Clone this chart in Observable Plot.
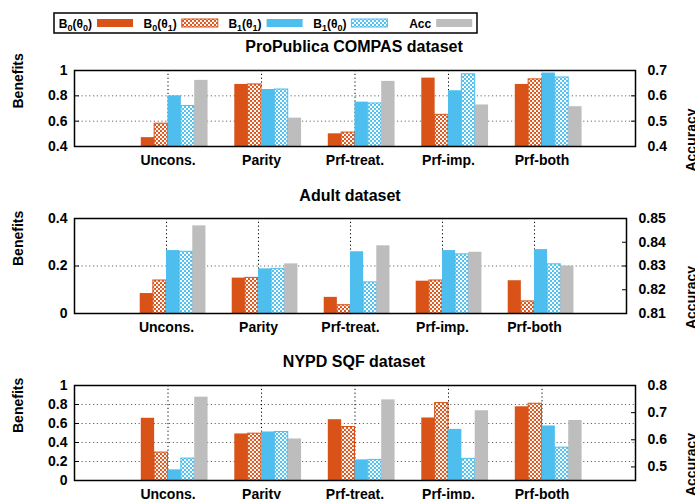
<!DOCTYPE html>
<html><head><meta charset="utf-8">
<script src="https://cdn.jsdelivr.net/npm/d3@7"></script>
<script src="https://cdn.jsdelivr.net/npm/@observablehq/plot@0.6"></script>
<style>
body{margin:0;background:#fff;overflow:hidden}
#wrap{position:relative;width:695px;height:499px;overflow:hidden;background:#fff}
#wrap svg{position:absolute;left:0}
</style></head><body><div id="wrap"></div>
<script>
// ---------- data ----------
const groups = ["Uncons.", "Parity", "Prf-treat.", "Prf-imp.", "Prf-both"];
const seriesKeys = ["B0t0", "B0t1", "B1t1", "B1t0", "Acc"];

// ProPublica COMPAS (benefits on left axis, accuracy on right axis)
const compasB0t0 = [0.47, 0.89, 0.50, 0.94, 0.89];
const compasB0t1 = [0.58, 0.89, 0.51, 0.65, 0.93];
const compasB1t1 = [0.80, 0.85, 0.75, 0.84, 0.98];
const compasB1t0 = [0.72, 0.85, 0.74, 0.97, 0.945];
const compasAcc  = [0.661, 0.512, 0.657, 0.564, 0.557];
const compasYTicks = [0.4, 0.6, 0.8, 1];
const compasY2Ticks = [0.4, 0.5, 0.6, 0.7];

// Adult
const adultB0t0 = [0.084, 0.149, 0.068, 0.136, 0.138];
const adultB0t1 = [0.139, 0.150, 0.035, 0.139, 0.051];
const adultB1t1 = [0.265, 0.188, 0.260, 0.265, 0.269];
const adultB1t0 = [0.260, 0.188, 0.131, 0.249, 0.207];
const adultAcc  = [0.8469, 0.8309, 0.8385, 0.8358, 0.8300];
const adultYTicks = [0, 0.2, 0.4];
const adultY2Ticks = [0.81, 0.82, 0.83, 0.84, 0.85];

// NYPD SQF
const nypdB0t0 = [0.655, 0.490, 0.640, 0.658, 0.776];
const nypdB0t1 = [0.294, 0.493, 0.563, 0.815, 0.808];
const nypdB1t1 = [0.112, 0.511, 0.217, 0.538, 0.574];
const nypdB1t0 = [0.231, 0.511, 0.217, 0.228, 0.346];
const nypdAcc  = [0.757, 0.603, 0.747, 0.707, 0.671];
const nypdYTicks = [0, 0.2, 0.4, 0.6, 0.8, 1];
const nypdY2Ticks = [0.5, 0.6, 0.7, 0.8];

// ---------- styling ----------
const ORANGE = "#D95319", BLUE = "#4DBEEE", GRAY = "#BDBDBD";
const FONT = "'Liberation Sans', Arial, Helvetica, sans-serif";
const seriesStyle = {
  B0t0: {fill: ORANGE},
  B0t1: {fill: "url(#hatchO)", stroke: ORANGE, strokeWidth: 1},
  B1t1: {fill: BLUE},
  B1t0: {fill: "url(#hatchB)", stroke: BLUE, strokeWidth: 1},
  Acc:  {fill: GRAY}
};

const wrap = document.getElementById("wrap");

// pattern defs (document-wide)
const defsSvg = d3.select(wrap).append("svg").attr("width", 0).attr("height", 0).style("top", "0px");
const defs = defsSvg.append("defs");
function hatch(id, color) {
  const p = defs.append("pattern").attr("id", id).attr("patternUnits", "userSpaceOnUse")
    .attr("width", 4).attr("height", 4);
  p.append("rect").attr("width", 4).attr("height", 4).attr("fill", color);
  p.append("circle").attr("cx", 1).attr("cy", 1).attr("r", 1.15).attr("fill", "#fff");
  p.append("circle").attr("cx", 3).attr("cy", 3).attr("r", 1.15).attr("fill", "#fff");
}
hatch("hatchO", ORANGE);
hatch("hatchB", BLUE);

const panels = [
  {title: "ProPublica COMPAS dataset", vals: [compasB0t0, compasB0t1, compasB1t1, compasB1t0], acc: compasAcc,
   yDomain: [0.4, 1], yTicks: compasYTicks, y2Domain: [0.4, 0.7], y2Ticks: compasY2Ticks,
   top: 60, plotH: 76, marginBottom: 30, marginRight: 60, titleY: 52, titleX: 354},
  {title: "Adult dataset", vals: [adultB0t0, adultB0t1, adultB1t1, adultB1t0], acc: adultAcc,
   yDomain: [0, 0.4], yTicks: adultYTicks, y2Domain: [0.81, 0.85], y2Ticks: adultY2Ticks,
   top: 208, plotH: 95, marginBottom: 30, marginRight: 69, titleY: 201, titleX: 350},
  {title: "NYPD SQF dataset", vals: [nypdB0t0, nypdB0t1, nypdB1t1, nypdB1t0], acc: nypdAcc,
   yDomain: [0, 1], yTicks: nypdYTicks, y2Domain: [0.45, 0.8], y2Ticks: nypdY2Ticks,
   top: 375, plotH: 95, marginBottom: 24, marginRight: 60, titleY: 367, titleX: 354}
];

const nGroups = groups.length, nSeries = seriesKeys.length, gap = 2;
const slot = 1 / (nSeries + gap);

panels.forEach(p => {
  const [y0, y1] = p.yDomain, [r0, r1] = p.y2Domain;
  const toLeft = r => y0 + (r - r0) * (y1 - y0) / (r1 - r0);
  const toRight = v => r0 + (v - y0) * (r1 - r0) / (y1 - y0);
  const fmt = v => String(+(+v).toFixed(3));
  const rows = [];
  groups.forEach((g, gi) => {
    seriesKeys.forEach((s, si) => {
      const v = s === "Acc" ? toLeft(p.acc[gi]) : p.vals[si][gi];
      rows.push({series: s, group: g, x1: gi + (si - 2) * slot, x2: gi + (si - 1) * slot, base: y0, v});
    });
  });
  const marginTop = 10;
  const chart = Plot.plot({
    width: 695,
    height: marginTop + p.plotH + p.marginBottom,
    marginLeft: 74, marginRight: p.marginRight, marginTop, marginBottom: p.marginBottom,
    x: {domain: [-1, nGroups]},
    y: {domain: p.yDomain},
    style: {fontFamily: FONT, fontSize: "14px", fontWeight: "bold", color: "#000", background: "transparent", overflow: "visible"},
    marks: [
      Plot.gridY(p.yTicks.filter(t => t > y0 && t < y1), {stroke: "#666", strokeOpacity: 1, strokeDasharray: "1.2,2.6"}),
      Plot.gridX(d3.range(nGroups), {stroke: "#000", strokeOpacity: 1, strokeDasharray: "1.2,2.6"}),
      ...seriesKeys.map(s => Plot.rect(rows.filter(r => r.series === s), {x1: "x1", x2: "x2", y1: "base", y2: "v", ...seriesStyle[s]})),
      Plot.frame({stroke: "#000", strokeWidth: 1.5}),
      Plot.axisY(p.yTicks, {anchor: "left", tickSize: -5, tickPadding: 12, tickFormat: fmt, label: null}),
      Plot.axisY(p.y2Ticks.map(toLeft), {anchor: "right", tickSize: -5, tickPadding: 17, tickFormat: v => fmt(toRight(v)), label: null}),
      Plot.axisX(d3.range(nGroups), {anchor: "bottom", tickSize: 0, tickPadding: 9, tickFormat: i => groups[i], label: null}),
      Plot.text(["Benefits"], {text: d => d, frameAnchor: "left", dx: -56, rotate: -90, fontSize: 14, fontWeight: "bold"}),
      Plot.text(["Accuracy"], {text: d => d, frameAnchor: "right", dx: 691 - (695 - p.marginRight), rotate: -90, fontSize: 14, fontWeight: "bold"})
    ]
  });
  chart.style.position = "absolute";
  chart.style.top = p.top + "px";
  chart.style.left = "0px";
  wrap.appendChild(chart);
});

// ---------- overlay: legend + titles ----------
const ov = d3.select(wrap).append("svg").attr("width", 695).attr("height", 499)
  .style("top", "0px").style("z-index", 5).style("pointer-events", "none")
  .attr("font-family", FONT).attr("font-weight", "bold");

panels.forEach(p => {
  ov.append("text").attr("x", p.titleX).attr("y", p.titleY).attr("text-anchor", "middle")
    .attr("font-size", 16).text(p.title);
});

ov.append("rect").attr("x", 54).attr("y", 13).attr("width", 423).attr("height", 20)
  .attr("fill", "#fff").attr("stroke", "#000").attr("stroke-width", 1.5);

const legendItems = [
  {main: "B", sub1: "0", mid: "(θ", sub2: "0", end: ")", key: "B0t0"},
  {main: "B", sub1: "0", mid: "(θ", sub2: "1", end: ")", key: "B0t1"},
  {main: "B", sub1: "1", mid: "(θ", sub2: "1", end: ")", key: "B1t1"},
  {main: "B", sub1: "1", mid: "(θ", sub2: "0", end: ")", key: "B1t0"},
  {main: "Acc", key: "Acc"}
];
legendItems.forEach((it, i) => {
  const sx = 97 + i * 84.8;
  const t = ov.append("text").attr("x", sx - 5).attr("y", 27.5).attr("text-anchor", "end").attr("font-size", 12);
  t.append("tspan").text(it.main);
  if (it.sub1) {
    t.append("tspan").attr("font-size", 9).attr("dy", 3).text(it.sub1);
    t.append("tspan").attr("dy", -3).text(it.mid);
    t.append("tspan").attr("font-size", 9).attr("dy", 3).text(it.sub2);
    t.append("tspan").attr("dy", -3).text(it.end);
  }
  const st = seriesStyle[it.key];
  ov.append("rect").attr("x", sx).attr("y", 19).attr("width", 36).attr("height", 8)
    .attr("fill", st.fill).attr("stroke", st.stroke || "none").attr("stroke-width", st.stroke ? 1 : 0);
});
</script>
</body></html>
